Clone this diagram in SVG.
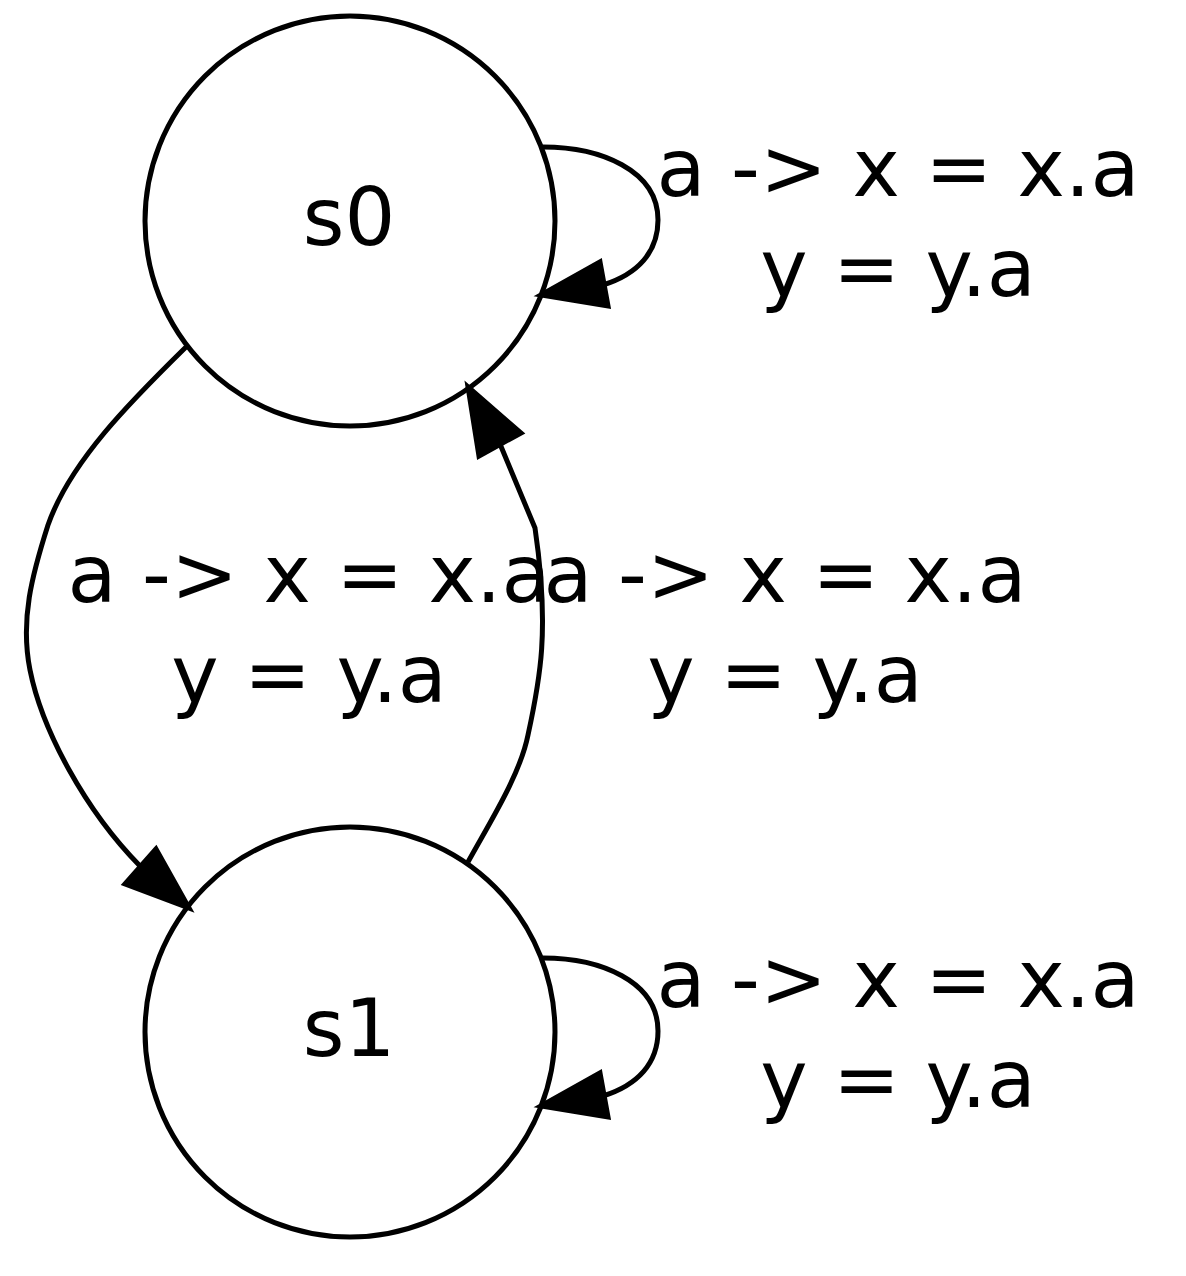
<svg xmlns="http://www.w3.org/2000/svg" width="1186" height="1276" viewBox="0 0 1186 1276">
<style>
.node ellipse{fill:none;stroke:#000;stroke-width:5}
.edge path{fill:none;stroke:#000;stroke-width:5}
.edge polygon{fill:#000;stroke:#000;stroke-width:5}
text{font-family:"DejaVu Sans",sans-serif;font-size:80px;fill:#000;text-anchor:middle}
</style>
<rect width="1186" height="1276" fill="#fff"/>
<g id="s0" class="node">
<ellipse cx="350" cy="221" rx="205" ry="205"/>
<text x="349" y="245">s0</text>
</g>
<g id="s1" class="node">
<ellipse cx="350" cy="1032" rx="205" ry="205"/>
<text x="349" y="1056">s1</text>
</g>
<g id="edges">
<g id="e_s0_s0" class="edge">
<path d="M543,147 C600,147 658,170 658,220 C658,252 638,274 603,285"/>
<polygon points="600,262 608,306 541,295"/>
<text x="898" y="196">a -&gt; x = x.a</text>
<text x="898" y="296">y = y.a</text>
</g>
<g id="e_s0_s1" class="edge">
<path d="M186,347 C130,402 70,462 48,525 C32,575 20,620 30,670 C42,730 85,810 140,866"/>
<polygon points="156,849 125,884 189,908"/>
<text x="309" y="602">a -&gt; x = x.a</text>
<text x="309" y="702">y = y.a</text>
</g>
<g id="e_s1_s0" class="edge">
<path d="M468,862 C490,822 520,775 528,735 C540,680 550,630 535,528 L500,444"/>
<polygon points="479,456 521,433 468,387"/>
<text x="785" y="602">a -&gt; x = x.a</text>
<text x="785" y="702">y = y.a</text>
</g>
<g id="e_s1_s1" class="edge">
<path d="M543,958 C600,958 658,981 658,1031 C658,1063 638,1085 603,1096"/>
<polygon points="600,1073 608,1117 541,1106"/>
<text x="898" y="1007">a -&gt; x = x.a</text>
<text x="898" y="1107">y = y.a</text>
</g>
</g>
</svg>
